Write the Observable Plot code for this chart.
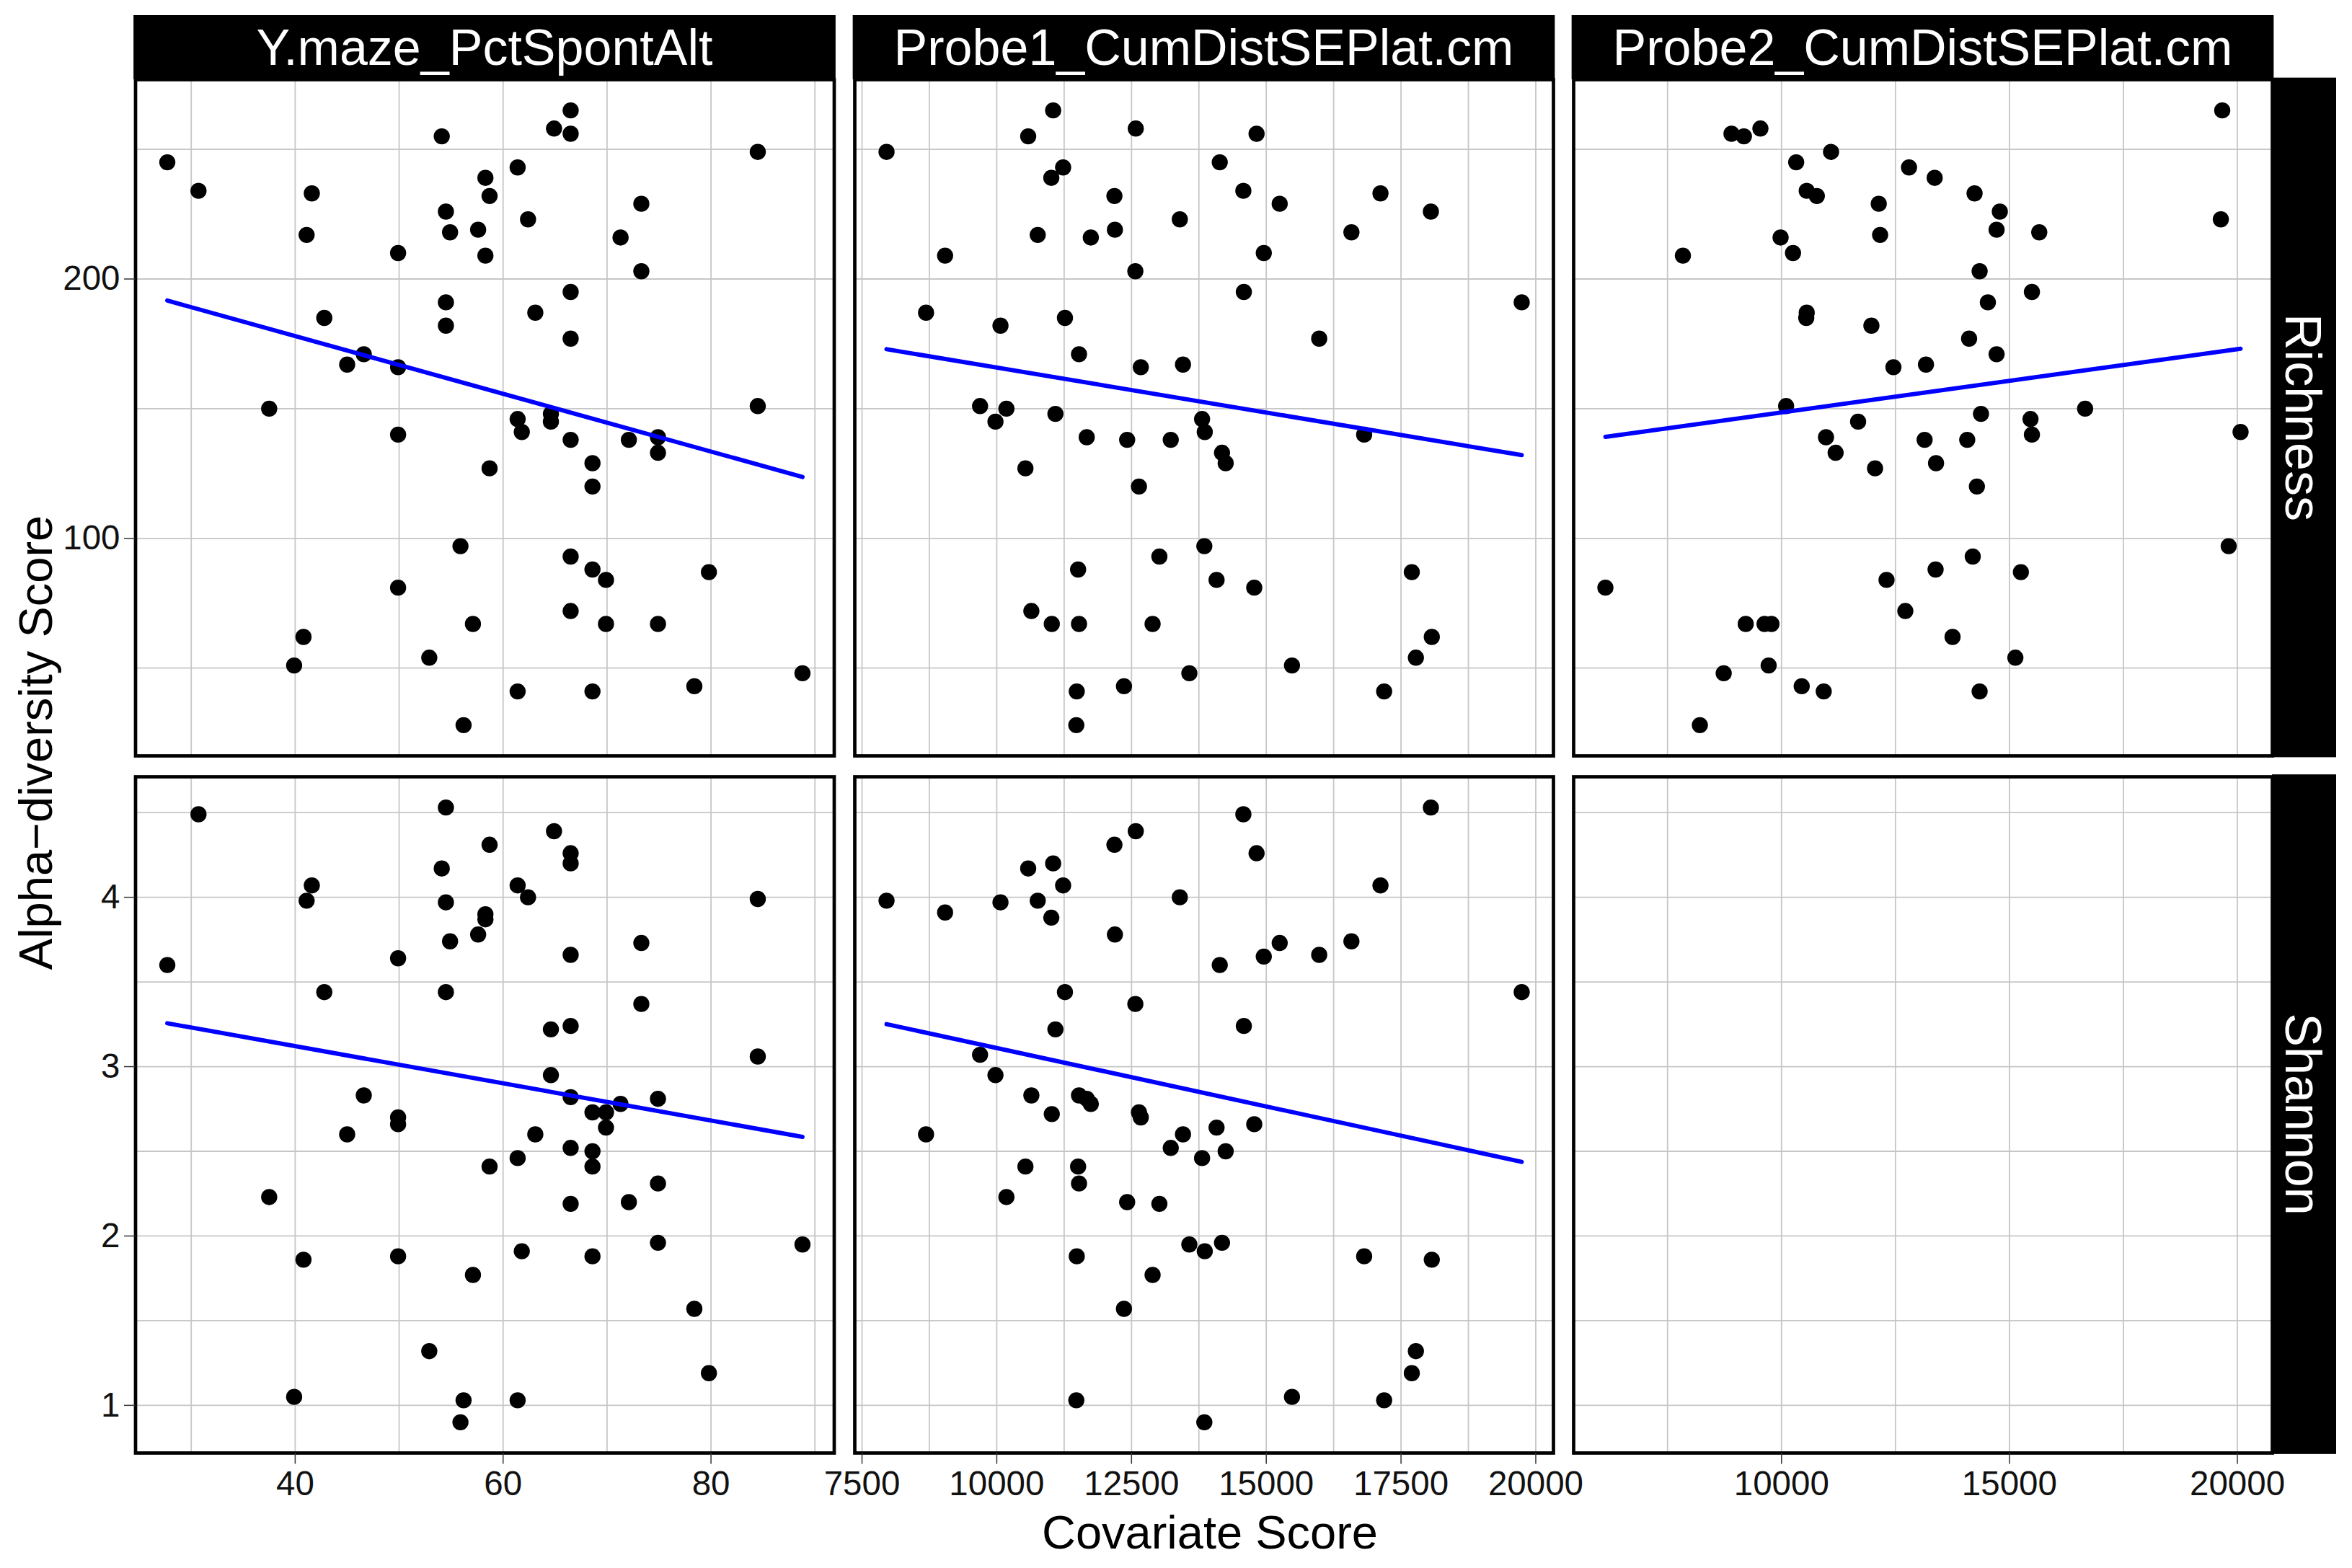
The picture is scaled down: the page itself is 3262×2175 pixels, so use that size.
<!DOCTYPE html>
<html><head><meta charset="utf-8">
<script src="https://cdn.jsdelivr.net/npm/d3@7"></script>
<script src="https://cdn.jsdelivr.net/npm/@observablehq/plot@0.6"></script>
<style>
html,body{margin:0;padding:0;background:#fff;}
#chart{position:relative;width:3262px;height:2175px;overflow:hidden;background:#fff;}
</style></head><body><div id="chart"></div>
<script>
// ---------- data ----------
const covariates = ["Y.maze_PctSpontAlt", "Probe1_CumDistSEPlat.cm", "Probe2_CumDistSEPlat.cm"];
const measures = ["Richness", "Shannon"];

// Y.maze_PctSpontAlt vs Richness
const ymazeR_x = [27.7,30.7,41.6,41.1,49.9,54.1,58.3,58.7,54.5,54.9,57.6,58.3,61.4,62.4,64.9,66.5,66.5,71.3,73.3,73.3,84.5,66.5,63.1,54.5,54.5,42.8,46.6,45.0,49.9,66.5,37.5,49.9,61.4,61.8,64.6,64.6,66.5,58.7,68.6,68.6,72.1,74.9,74.9,84.5,55.9,66.5,68.6,69.9,79.8,49.9,66.5,57.1,69.9,74.9,40.8,39.9,52.9,88.8,61.4,68.6,78.4,56.2];
const ymazeR_y = [245,234,233,217,210,255,239,232,226,218,219,209,243,223,258,265,256,216,229,203,249,195,187,191,182,185,171,167,166,177,150,140,146,141,148,145,138,127,129,120,138,139,133,151,97,93,88,84,87,81,72,67,67,67,62,51,54,48,41,41,43,28];

// Probe1 vs Richness
const p1R_x = [7955,11046,10583,12579,14820,11231,11012,14137,12183,14575,15249,17119,18054,13396,10760,11745,12192,16580,9041,14954,12571,14584,19739,8688,10069,11265,15982,11526,12672,13455,9690,10179,9976,11088,11669,12419,13228,13809,13859,14179,14247,16816,10532,12638,13851,13017,11509,14078,14777,17700,10642,11021,11526,12891,18071,17776,15477,13573,12360,11484,17187,11476];
const p1R_y = [249,265,255,258,256,243,239,245,232,234,229,233,226,223,217,216,219,218,209,210,203,195,191,187,182,185,177,171,166,167,151,150,145,148,139,138,138,146,141,133,129,140,127,120,97,93,88,84,81,87,72,67,67,67,62,54,51,48,43,41,41,28];

// Probe2 vs Richness
const p2R_x = [19668,8903,9175,9537,11087,10322,12797,13360,10553,10775,14235,12133,14789,19637,14718,15654,12163,9980,7837,10252,14346,15493,14527,10553,10543,11972,14115,14718,12455,13169,10101,16660,11680,14376,15462,15493,20070,10976,13139,14074,11187,13390,12052,14286,19809,14195,13380,15251,12304,6137,12716,9215,9628,9779,13752,15130,9718,8732,10443,10926,14346,8209];
const p2R_y = [265,256,255,258,249,245,243,239,234,232,233,229,226,223,219,218,217,216,209,210,203,195,191,187,185,182,177,171,166,167,151,150,145,148,146,140,141,139,138,138,133,129,127,120,97,93,88,87,84,81,72,67,67,67,62,54,51,48,43,41,41,28];

// Y.maze_PctSpontAlt vs Shannon
const ymazeS_x = [30.7,54.5,64.9,58.7,66.5,66.5,54.1,41.6,41.1,61.4,62.4,54.5,58.3,58.3,84.5,57.6,54.9,49.9,66.5,73.3,27.7,42.8,54.5,73.3,64.6,66.5,84.5,64.6,46.6,66.5,71.3,74.9,49.9,49.9,68.6,69.9,69.9,45.0,63.1,66.5,68.6,61.4,58.7,68.6,37.5,74.9,66.5,72.1,74.9,88.8,40.8,49.9,61.8,68.6,57.1,78.4,52.9,79.8,39.9,56.2,61.4,55.9];
const ymazeS_y = [4.49,4.53,4.39,4.31,4.26,4.20,4.17,4.07,3.98,4.07,4.00,3.97,3.90,3.87,3.99,3.78,3.74,3.64,3.66,3.73,3.60,3.44,3.44,3.37,3.22,3.24,3.06,2.95,2.83,2.82,2.78,2.81,2.70,2.66,2.73,2.73,2.64,2.60,2.60,2.52,2.50,2.46,2.41,2.41,2.23,2.31,2.19,2.20,1.96,1.95,1.86,1.88,1.91,1.88,1.77,1.57,1.32,1.19,1.05,1.03,1.03,0.90];

// Probe1 vs Shannon
const p1S_x = [14575,18054,12579,12183,14820,11046,10583,11231,17119,7955,10069,10760,13396,9041,11012,12192,15249,16580,14954,15982,14137,11265,19739,12571,11088,14584,9690,9976,10642,11526,11669,11745,11021,12638,12672,8688,13455,14078,14777,13228,14247,13809,10532,11509,11526,10179,12419,13017,13573,13859,14179,11484,16816,18071,12891,12360,17776,17700,11476,15477,17187,13851];
const p1S_y = [4.49,4.53,4.39,4.31,4.26,4.20,4.17,4.07,4.07,3.98,3.97,3.98,4.00,3.91,3.88,3.78,3.73,3.74,3.65,3.66,3.60,3.44,3.44,3.37,3.22,3.24,3.07,2.95,2.83,2.83,2.81,2.78,2.72,2.73,2.70,2.60,2.60,2.64,2.66,2.52,2.50,2.46,2.41,2.41,2.31,2.23,2.20,2.19,1.95,1.91,1.96,1.88,1.88,1.86,1.77,1.57,1.32,1.19,1.03,1.05,1.03,0.90];

// tick labels / breaks
const ymazeTicks = [40, 60, 80];
const ymazeMinor = [30, 50, 70, 90];
const probe1Ticks = [7500, 10000, 12500, 15000, 17500, 20000];
const probe1Minor = [8750, 11250, 13750, 16250, 18750];
const probe2Ticks = [10000, 15000, 20000];
const probe2Minor = [7500, 12500, 17500];
const richTicks = [100, 200];
const richMinor = [50, 150, 250];
const shanTicks = [1, 2, 3, 4];
const shanMinor = [1.5, 2.5, 3.5, 4.5];

const xTitle = "Covariate Score";
const yTitle = "Alpha\u2212diversity Score";

// ---------- layout ----------
const FONT = '"Liberation Sans", Arial, Helvetica, sans-serif';
const colL = [187.5, 1185, 2182], PW = 969;
const rowT = [110, 1076.5], PH = 938;
const GRID = "#c6c6c6";
const BORDER = 4.7;

const xTicks = [ymazeTicks, probe1Ticks, probe2Ticks];
const xMinor = [ymazeMinor, probe1Minor, probe2Minor];
const yTicks = [richTicks, shanTicks];
const yMinor = [richMinor, shanMinor];

function expand(ext) { const d = ext[1] - ext[0]; return [ext[0] - 0.05 * d, ext[1] + 0.05 * d]; }
const xDomains = [
  expand(d3.extent(ymazeR_x.concat(ymazeS_x))),
  expand(d3.extent(p1R_x.concat(p1S_x))),
  expand(d3.extent(p2R_x))
];
const yDomains = [
  expand(d3.extent(ymazeR_y.concat(p1R_y, p2R_y))),
  expand(d3.extent(ymazeS_y.concat(p1S_y)))
];

const panels = [
  {r: 0, c: 0, xs: ymazeR_x, ys: ymazeR_y},
  {r: 0, c: 1, xs: p1R_x, ys: p1R_y},
  {r: 0, c: 2, xs: p2R_x, ys: p2R_y},
  {r: 1, c: 0, xs: ymazeS_x, ys: ymazeS_y},
  {r: 1, c: 1, xs: p1S_x, ys: p1S_y},
  {r: 1, c: 2, xs: null, ys: null}
];

const chart = document.getElementById("chart");

for (const p of panels) {
  const {r, c, xs, ys} = p;
  const ml = c === 0 ? colL[0] : 6, mr = 6, mt = 6, mb = r === 1 ? 90 : 6;
  const data = xs ? xs.map((x, i) => ({x, y: ys[i]})) : [];
  const marks = [
    Plot.gridX({ticks: xTicks[c].concat(xMinor[c]), stroke: GRID, strokeOpacity: 1, strokeWidth: 1.8}),
    Plot.gridY({ticks: yTicks[r].concat(yMinor[r]), stroke: GRID, strokeOpacity: 1, strokeWidth: 1.8})
  ];
  if (xs) {
    marks.push(Plot.dot(data, {x: "x", y: "y", r: 11.2, fill: "black", stroke: "none"}));
    marks.push(Plot.linearRegressionY(data, {x: "x", y: "y", stroke: "#0000ff", strokeWidth: 6, ci: 0}));
  }
  marks.push(Plot.frame({stroke: "black", strokeWidth: BORDER}));
  if (r === 1) marks.push(Plot.axisX({ticks: xTicks[c], tickFormat: d => String(d), tickSize: 15.5, tickPadding: 9,
    fontSize: 47.5, label: null, stroke: "#333333", strokeWidth: 1.5, fill: "#111111"}));
  if (c === 0) marks.push(Plot.axisY({ticks: yTicks[r], tickFormat: d => String(d), tickSize: 15.5, tickPadding: 6,
    fontSize: 47.5, label: null, stroke: "#333333", strokeWidth: 1.5, fill: "#111111"}));
  const xOpt = {domain: xDomains[c]};
  if (r !== 1) xOpt.axis = null;
  const yOpt = {domain: yDomains[r]};
  if (c !== 0) yOpt.axis = null;
  const svg = Plot.plot({
    width: ml + PW + mr, height: mt + PH + mb,
    marginLeft: ml, marginRight: mr, marginTop: mt, marginBottom: mb,
    x: xOpt, y: yOpt, marks,
    style: {position: "absolute", left: (colL[c] - ml) + "px", top: (rowT[r] - mt) + "px",
      background: "transparent", overflow: "visible", maxWidth: "none", fontFamily: FONT, fontSize: "47.5px", color: "#111"}
  });
  chart.appendChild(svg);
}

// ---------- strips and titles ----------
const ov = d3.select(chart).append("svg")
  .attr("width", 3262).attr("height", 2175)
  .style("position", "absolute").style("left", "0px").style("top", "0px").style("overflow", "visible")
  .style("font-family", FONT);

covariates.forEach((name, c) => {
  const x0 = colL[c] - BORDER / 2, w = PW + BORDER;
  ov.append("rect").attr("x", x0).attr("y", 21).attr("width", w).attr("height", rowT[0] - 21).attr("fill", "black");
  ov.append("text").attr("x", colL[c] + PW / 2).attr("y", 64.5).attr("dy", "0.358em")
    .attr("text-anchor", "middle").attr("fill", "white").attr("font-size", 70).text(name);
});
measures.forEach((name, r) => {
  const y0 = rowT[r] - BORDER / 2, h = PH + BORDER;
  const sx = colL[2] + PW, sw = 89;
  ov.append("rect").attr("x", sx).attr("y", y0).attr("width", sw).attr("height", h).attr("fill", "black");
  ov.append("text").attr("transform", `translate(${sx + sw / 2},${rowT[r] + PH / 2}) rotate(90)`)
    .attr("dy", "0.358em").attr("text-anchor", "middle").attr("fill", "white").attr("font-size", 70).text(name);
});
ov.append("text").attr("x", 1678).attr("y", 2148).attr("text-anchor", "middle")
  .attr("font-size", 65).attr("fill", "black").text(xTitle);
ov.append("text").attr("transform", "translate(72,1030) rotate(-90)").attr("text-anchor", "middle")
  .attr("font-size", 65).attr("fill", "black").text(yTitle);
</script></body></html>
